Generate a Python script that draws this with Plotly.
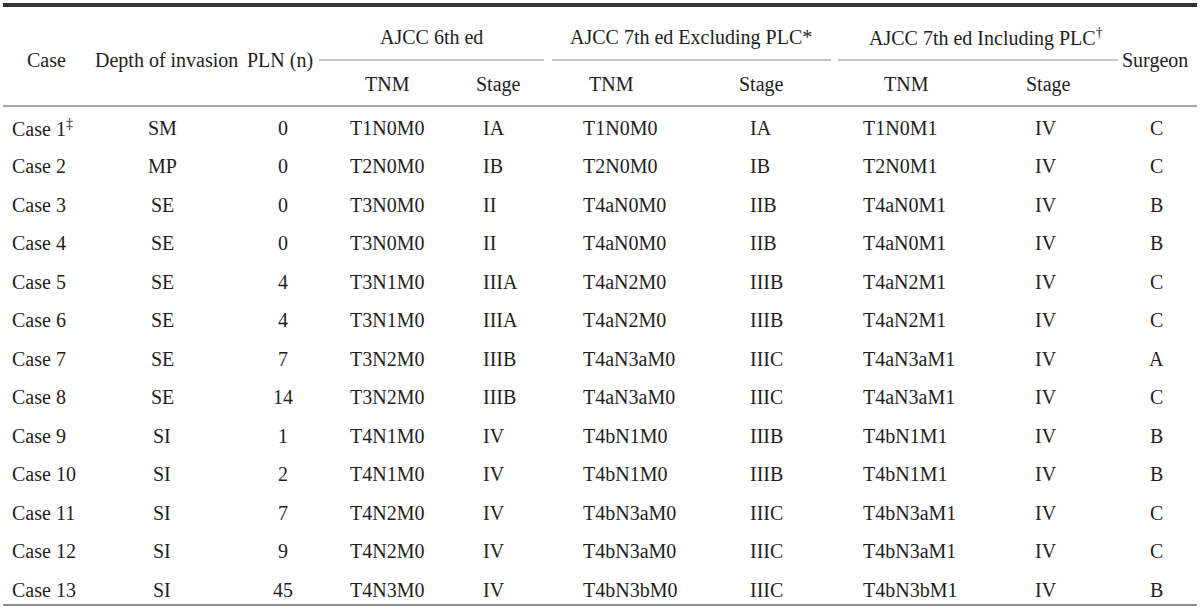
import plotly.graph_objects as go

# ---------------- data ----------------
cases = ["Case 1<sup>‡</sup>", "Case 2", "Case 3", "Case 4", "Case 5", "Case 6", "Case 7",
         "Case 8", "Case 9", "Case 10", "Case 11", "Case 12", "Case 13"]
depth = ["SM", "MP", "SE", "SE", "SE", "SE", "SE", "SE", "SI", "SI", "SI", "SI", "SI"]
pln = [0, 0, 0, 0, 4, 4, 7, 14, 1, 2, 7, 9, 45]
tnm6 = ["T1N0M0", "T2N0M0", "T3N0M0", "T3N0M0", "T3N1M0", "T3N1M0", "T3N2M0", "T3N2M0",
        "T4N1M0", "T4N1M0", "T4N2M0", "T4N2M0", "T4N3M0"]
stage6 = ["IA", "IB", "II", "II", "IIIA", "IIIA", "IIIB", "IIIB", "IV", "IV", "IV", "IV", "IV"]
tnm7ex = ["T1N0M0", "T2N0M0", "T4aN0M0", "T4aN0M0", "T4aN2M0", "T4aN2M0", "T4aN3aM0", "T4aN3aM0",
          "T4bN1M0", "T4bN1M0", "T4bN3aM0", "T4bN3aM0", "T4bN3bM0"]
stage7ex = ["IA", "IB", "IIB", "IIB", "IIIB", "IIIB", "IIIC", "IIIC", "IIIB", "IIIB", "IIIC", "IIIC", "IIIC"]
tnm7in = ["T1N0M1", "T2N0M1", "T4aN0M1", "T4aN0M1", "T4aN2M1", "T4aN2M1", "T4aN3aM1", "T4aN3aM1",
          "T4bN1M1", "T4bN1M1", "T4bN3aM1", "T4bN3aM1", "T4bN3bM1"]
stage7in = ["IV", "IV", "IV", "IV", "IV", "IV", "IV", "IV", "IV", "IV", "IV", "IV", "IV"]
surgeon = ["C", "C", "B", "B", "C", "C", "A", "C", "B", "B", "C", "C", "B"]

group_headers = ["AJCC 6th ed", "AJCC 7th ed Excluding PLC*", "AJCC 7th ed Including PLC<sup>†</sup>"]
sub_headers = ["TNM", "Stage", "TNM", "Stage", "TNM", "Stage"]
span_headers = ["Case", "Depth of invasion", "PLN (n)", "Surgeon"]

# ---------------- layout constants ----------------
W, H = 1200, 610
FONT = "Liberation Serif, Times New Roman, serif"
FS = 20
TXT = "#1e1e1e"
ROW0 = 127.5
ROWH = 38.5

# column (x, anchor) for data cells
data_cols = [
    (cases, 10, "left"),
    (depth, 162, "center"),
    (pln, 283, "center"),
    (tnm6, 387, "center"),
    (stage6, 481, "left"),
    (tnm7ex, 581, "left"),
    (stage7ex, 748, "left"),
    (tnm7in, 861, "left"),
    (stage7in, 1046, "center"),
    (surgeon, 1156, "center"),
]
span_x = [46, 166, 280, 1155]
group_x = [431, 691, 986]
group_lines = [(319, 544), (552, 831), (838, 1118)]
sub_x = [387, 498, 611, 761, 906, 1048]

ann = []
def add(text, x, y, anchor="center", size=FS):
    ann.append(dict(text=str(text), x=x, y=y, xref="x", yref="y", showarrow=False,
                    xanchor=anchor, yanchor="middle",
                    font=dict(family=FONT, size=size, color=TXT)))

for values, x, anchor in data_cols:
    for i, v in enumerate(values):
        add(v, x, ROW0 + i * ROWH, anchor)

for t, x in zip(span_headers, span_x):
    add(t, x, 60)
for t, x in zip(group_headers, group_x):
    add(t, x, 37)
for t, x in zip(sub_headers, sub_x):
    add(t, x, 84)

shapes = [
    dict(type="line", x0=3, x1=1197, y0=5, y1=5, xref="x", yref="y",
         line=dict(color="#333333", width=4)),
    dict(type="line", x0=3, x1=1197, y0=106, y1=106, xref="x", yref="y",
         line=dict(color="#8a8a8a", width=1.5)),
    dict(type="line", x0=3, x1=1197, y0=605, y1=605, xref="x", yref="y",
         line=dict(color="#6a6a6a", width=1.5)),
]
for x0, x1 in group_lines:
    shapes.append(dict(type="line", x0=x0, x1=x1, y0=60, y1=60, xref="x", yref="y",
                       line=dict(color="#8a8a8a", width=1)))

fig = go.Figure()
fig.add_trace(go.Scatter(x=[0, W], y=[0, H], mode="markers", marker=dict(opacity=0),
                         hoverinfo="skip", showlegend=False))
fig.update_layout(
    width=W, height=H, margin=dict(l=0, r=0, t=0, b=0),
    paper_bgcolor="white", plot_bgcolor="white",
    xaxis=dict(range=[0, W], visible=False, fixedrange=True),
    yaxis=dict(range=[H, 0], visible=False, fixedrange=True),
    annotations=ann, shapes=shapes, showlegend=False,
)
fig.write_html("out.html", config={"displayModeBar": False},
               post_script="document.body.style.margin='0';document.body.style.overflow='hidden';")
